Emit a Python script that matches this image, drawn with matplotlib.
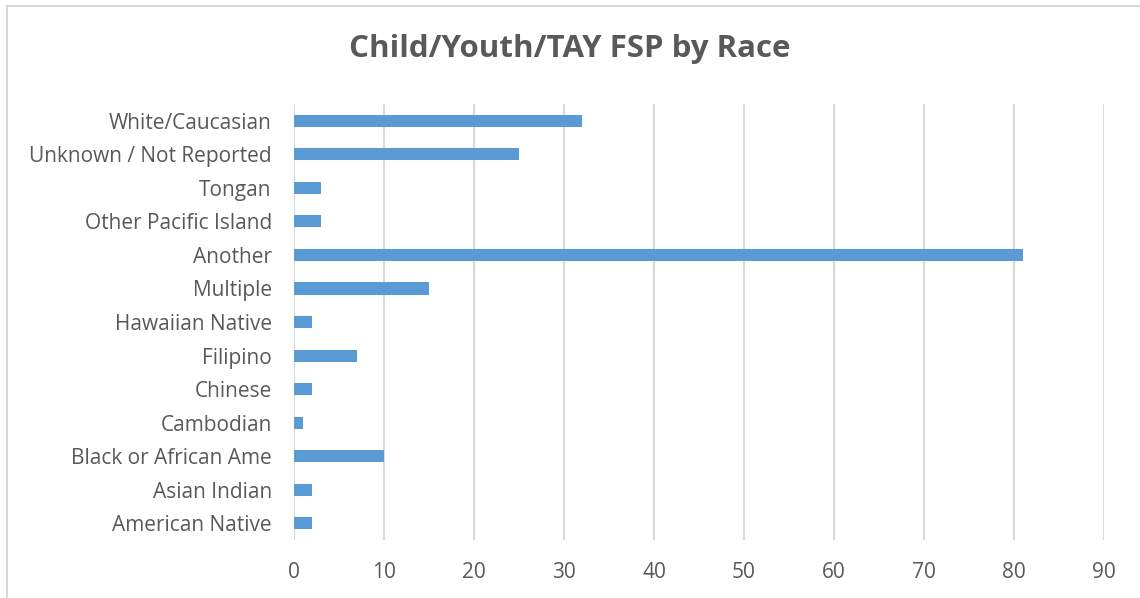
import matplotlib
matplotlib.use("Agg")
import matplotlib.pyplot as plt
from matplotlib.patches import Rectangle

# data, bottom to top
races = ["American Native", "Asian Indian", "Black or African Ame", "Cambodian",
         "Chinese", "Filipino", "Hawaiian Native", "Multiple", "Another",
         "Other Pacific Island", "Tongan", "Unknown / Not Reported",
         "White/Caucasian"]
counts = [2, 2, 10, 1, 2, 7, 2, 15, 81, 3, 3, 25, 32]
xticks = [0, 10, 20, 30, 40, 50, 60, 70, 80, 90]

textColor = "#595959"
barColor = "#5B9BD5"
gridColor = "#D9D9D9"

plt.rcParams["font.family"] = ["Open Sans", "DejaVu Sans"]

fig = plt.figure(figsize=(11.4, 5.98), dpi=100)
ax = fig.add_axes([0.2579, 0.097, 0.9684 - 0.2579, 0.826 - 0.097])

ax.barh(range(len(races)), counts, height=0.36, color=barColor, zorder=3)
ax.set_xlim(0, 90)
ax.set_ylim(-0.5, len(races) - 0.5)
ax.set_xticks(xticks)
ax.set_yticks(range(len(races)))
ax.set_yticklabels(races)
ax.grid(axis="x", color=gridColor, linewidth=1.5, zorder=0)
for s in ax.spines.values():
    s.set_visible(False)
ax.tick_params(axis="both", length=0, labelsize=15, colors=textColor)
ax.tick_params(axis="x", pad=16)
ax.tick_params(axis="y", pad=16)

fig.text(0.5, 0.918, "Child/Youth/TAY FSP by Race", ha="center", va="center",
         fontsize=22.5, fontweight="bold", color=textColor)

# chart frame like the Excel chart area
fig.patches.append(Rectangle((7 / 1140, -0.1), 1.2, 1 - 6 / 598 + 0.1,
                             transform=fig.transFigure, fill=False,
                             edgecolor=gridColor, linewidth=1.5))

fig.savefig("out.png", dpi=100)
